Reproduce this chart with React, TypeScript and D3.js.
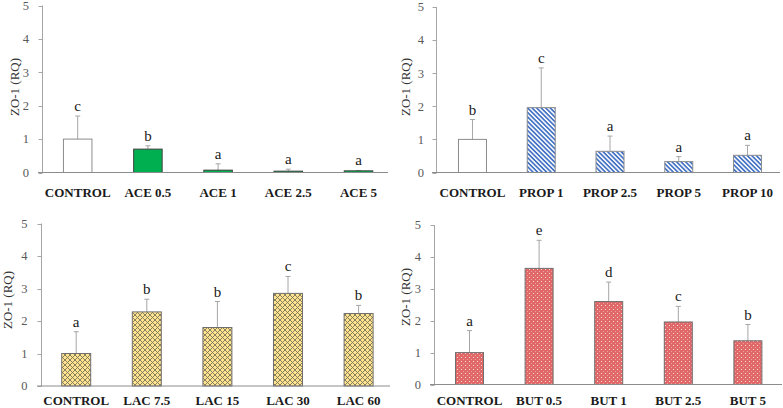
import React from "react";
import * as d3 from "d3";

// ---------- data ----------
const ACE_CATEGORIES = ["CONTROL", "ACE 0.5", "ACE 1", "ACE 2.5", "ACE 5"];
const ACE_MEANS = [1.0, 0.7, 0.07, 0.04, 0.05];
const ACE_ERRORS = [0.69, 0.1, 0.19, 0.06, 0.01];
const ACE_LETTERS = ["c", "b", "a", "a", "a"];

const PROP_CATEGORIES = ["CONTROL", "PROP 1", "PROP 2.5", "PROP 5", "PROP 10"];
const PROP_MEANS = [1.0, 1.96, 0.64, 0.33, 0.52];
const PROP_ERRORS = [0.6, 1.2, 0.46, 0.15, 0.3];
const PROP_LETTERS = ["b", "c", "a", "a", "a"];

const LAC_CATEGORIES = ["CONTROL", "LAC 7.5", "LAC 15", "LAC 30", "LAC 60"];
const LAC_MEANS = [1.0, 2.28, 1.8, 2.85, 2.23];
const LAC_ERRORS = [0.67, 0.39, 0.8, 0.52, 0.25];
const LAC_LETTERS = ["a", "b", "b", "c", "b"];

const BUT_CATEGORIES = ["CONTROL", "BUT 0.5", "BUT 1", "BUT 2.5", "BUT 5"];
const BUT_MEANS = [1.0, 3.64, 2.6, 1.96, 1.37];
const BUT_ERRORS = [0.69, 0.88, 0.61, 0.49, 0.51];
const BUT_LETTERS = ["a", "e", "d", "c", "b"];

const Y_TICKS = [0, 1, 2, 3, 4, 5];
const Y_DOMAIN: [number, number] = [0, 5];
const Y_LABEL = "ZO-1 (RQ)";

// ---------- layout ----------
type Panel = {
  id: string;
  cats: string[];
  means: number[];
  errs: number[];
  letters: string[];
  controlFill: string;
  controlStroke: string;
  fill: string;
  stroke: string;
  axisX: number;
  xAxisStart: number;
  xAxisEnd: number;
  y0: number;
  y5: number;
  bandStart: number;
  bandEnd: number;
  barW: number;
  tickLabelX: number;
  yLabelX: number;
  yLabelY: number;
  catY: number;
};

const PANELS: Panel[] = [
  {
    id: "ace", cats: ACE_CATEGORIES, means: ACE_MEANS, errs: ACE_ERRORS, letters: ACE_LETTERS,
    controlFill: "#ffffff", controlStroke: "#8c8c8c", fill: "#00b050", stroke: "#3f3f3f",
    axisX: 42.5, xAxisStart: 38, xAxisEnd: 388, y0: 172.5, y5: 5.5,
    bandStart: 42.6, bandEnd: 393.6, barW: 28.5, tickLabelX: 29, yLabelX: 14, yLabelY: 87, catY: 197,
  },
  {
    id: "prop", cats: PROP_CATEGORIES, means: PROP_MEANS, errs: PROP_ERRORS, letters: PROP_LETTERS,
    controlFill: "#ffffff", controlStroke: "#8c8c8c", fill: "url(#stripes)", stroke: "#8c8c8c",
    axisX: 436.5, xAxisStart: 432, xAxisEnd: 780, y0: 172.5, y5: 7,
    bandStart: 438.1, bandEnd: 781.9, barW: 28, tickLabelX: 424, yLabelX: 405, yLabelY: 87, catY: 197,
  },
  {
    id: "lac", cats: LAC_CATEGORIES, means: LAC_MEANS, errs: LAC_ERRORS, letters: LAC_LETTERS,
    controlFill: "url(#diamonds)", controlStroke: "#6f6f6f", fill: "url(#diamonds)", stroke: "#6f6f6f",
    axisX: 41.5, xAxisStart: 37, xAxisEnd: 390, y0: 386, y5: 223.5,
    bandStart: 40.9, bandEnd: 393.9, barW: 29, tickLabelX: 27.5, yLabelX: 7, yLabelY: 300, catY: 405,
  },
  {
    id: "but", cats: BUT_CATEGORIES, means: BUT_MEANS, errs: BUT_ERRORS, letters: BUT_LETTERS,
    controlFill: "url(#dots)", controlStroke: "#6f6f6f", fill: "url(#dots)", stroke: "#6f6f6f",
    axisX: 434.5, xAxisStart: 430, xAxisEnd: 782, y0: 384.5, y5: 225,
    bandStart: 434.7, bandEnd: 782.7, barW: 28, tickLabelX: 421, yLabelX: 405, yLabelY: 297, catY: 404.5,
  },
];

const SERIF = "'Liberation Serif', 'Times New Roman', serif";

function PanelChart({ p }: { p: Panel }) {
  const y = d3.scaleLinear().domain(Y_DOMAIN).range([p.y0, p.y5]);
  const x = d3.scaleBand<string>().domain(p.cats).range([p.bandStart, p.bandEnd]).padding(0);
  const bw = x.bandwidth();
  return (
    <g>
      {/* y axis */}
      <line x1={p.axisX} x2={p.axisX} y1={y(0)} y2={y(5)} stroke="#a6a6a6" strokeWidth={1} />
      {Y_TICKS.map((t) => (
        <g key={t}>
          <line x1={p.axisX - 4} x2={p.axisX} y1={Math.round(y(t)) + 0.5} y2={Math.round(y(t)) + 0.5} stroke="#a6a6a6" />
          <text x={p.tickLabelX} y={y(t)} dy="0.35em" textAnchor="end" fontFamily={SERIF} fontSize={12.5} fill="#595959">
            {t}
          </text>
        </g>
      ))}
      <text
        transform={`translate(${p.yLabelX},${p.yLabelY}) rotate(-90)`}
        textAnchor="middle"
        dy="0.35em"
        fontFamily={SERIF}
        fontSize={13}
        fill="#333333"
      >
        {Y_LABEL}
      </text>
      {/* bars */}
      {p.cats.map((c, i) => {
        const cx = (x(c) as number) + bw / 2;
        const top = y(p.means[i]);
        const errTop = y(p.means[i] + p.errs[i]);
        const isControl = i === 0;
        return (
          <g key={c}>
            <line x1={cx} x2={cx} y1={top} y2={errTop} stroke="#a6a6a6" strokeWidth={1} />
            <line x1={cx - 2.5} x2={cx + 2.5} y1={errTop} y2={errTop} stroke="#a6a6a6" strokeWidth={1} />
            <rect
              x={cx - p.barW / 2}
              y={top}
              width={p.barW}
              height={y(0) - top}
              fill={isControl ? p.controlFill : p.fill}
              stroke={isControl ? p.controlStroke : p.stroke}
              strokeWidth={1}
            />
            <text x={cx} y={errTop - 5} textAnchor="middle" fontFamily={SERIF} fontSize={15} fill="#1a1a1a">
              {p.letters[i]}
            </text>
            <text x={cx} y={p.catY} textAnchor="middle" fontFamily={SERIF} fontSize={13} fontWeight="bold" fill="#1a1a1a">
              {c}
            </text>
          </g>
        );
      })}
      {/* x axis */}
      <line x1={p.xAxisStart} x2={p.xAxisEnd} y1={y(0)} y2={y(0)} stroke="#8c8c8c" strokeWidth={1} />
    </g>
  );
}

export default function App() {
  return (
    <svg width={783} height={408} style={{ position: "absolute", left: 0, top: 0, background: "#ffffff" }}>
      <defs>
        <pattern id="stripes" patternUnits="userSpaceOnUse" width={3.2} height={3.2} patternTransform="rotate(45)">
          <rect width={3.2} height={3.2} fill="#ffffff" />
          <rect width={3.2} height={1.7} fill="#4472c4" />
        </pattern>
        <pattern id="diamonds" patternUnits="userSpaceOnUse" width={5} height={5}>
          <rect width={5} height={5} fill="#ffe38f" />
          <path d="M0,0 L5,5 M5,0 L0,5" stroke="#7a7458" strokeWidth={0.9} />
        </pattern>
        <pattern id="dots" patternUnits="userSpaceOnUse" width={4} height={4}>
          <rect width={4} height={4} fill="#e06868" />
          <rect x={1} y={1} width={1} height={1} fill="#ffffff" opacity={0.75} />
          <rect x={3} y={3} width={1} height={1} fill="#f7c6c6" opacity={0.6} />
        </pattern>
      </defs>
      <rect width={783} height={408} fill="#ffffff" />
      {PANELS.map((p) => (
        <PanelChart key={p.id} p={p} />
      ))}
    </svg>
  );
}
